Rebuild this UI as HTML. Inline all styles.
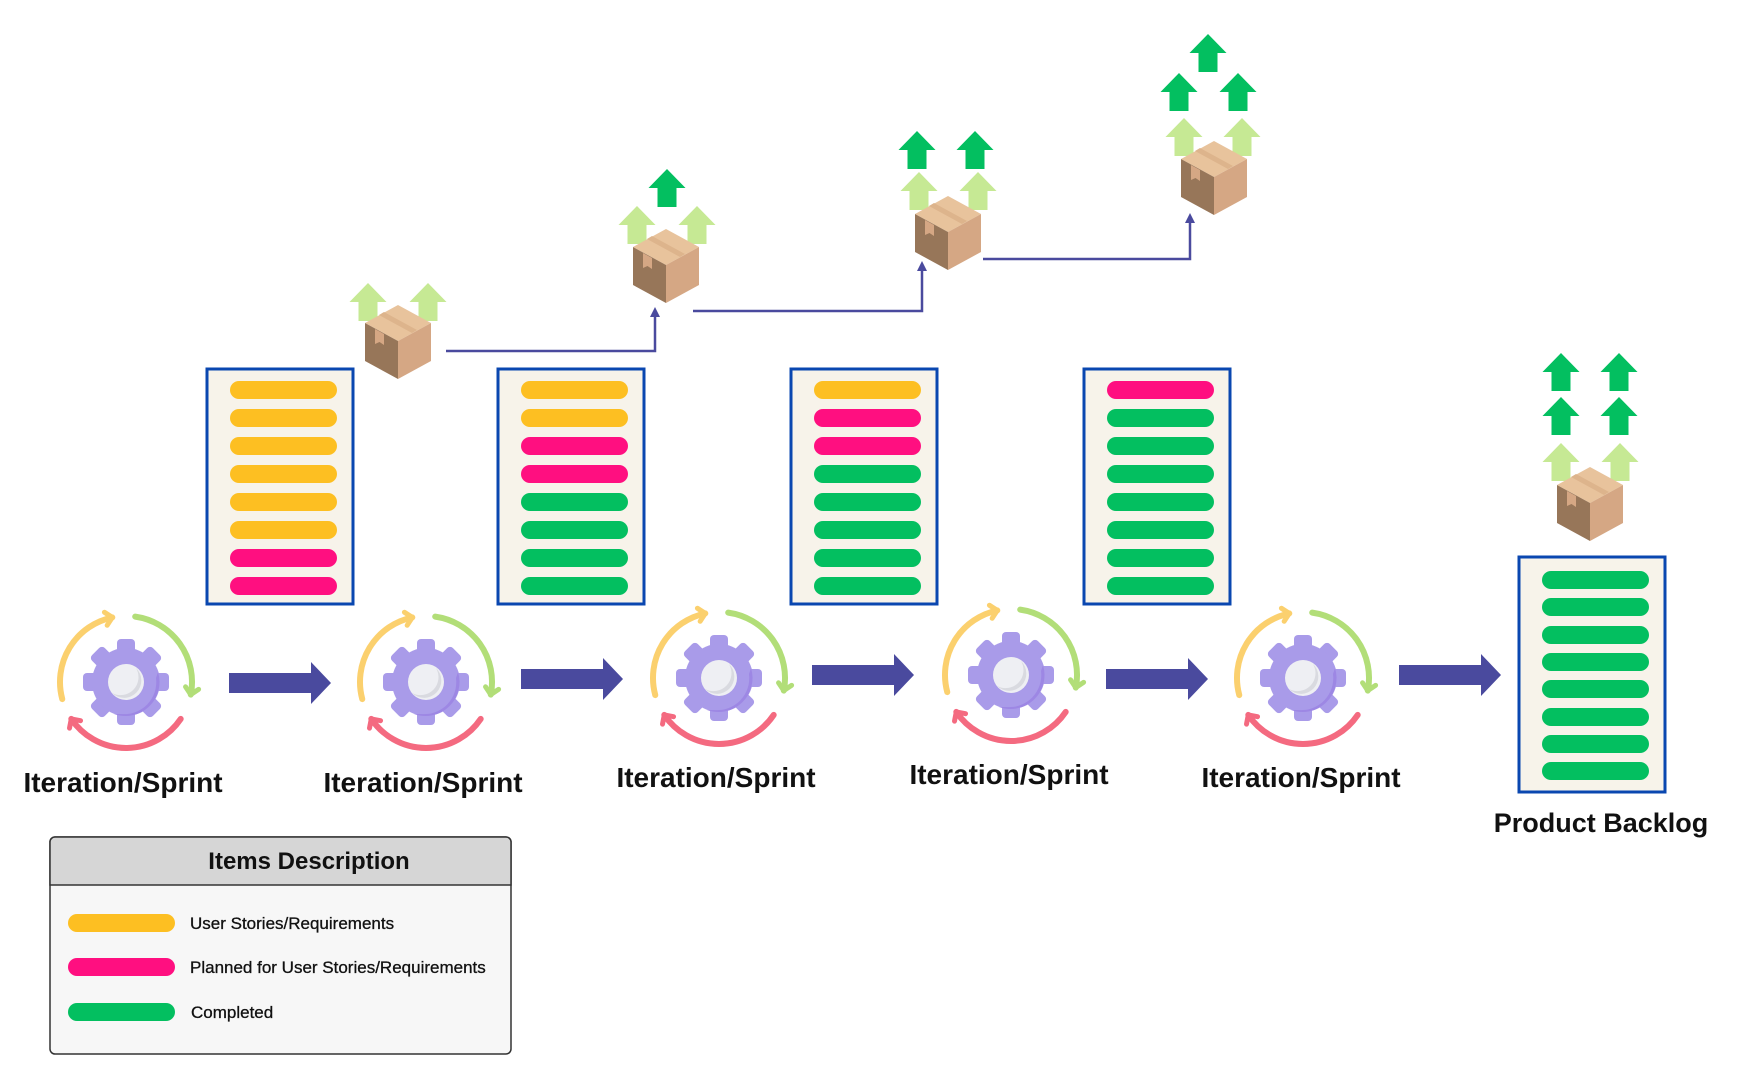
<!DOCTYPE html>
<html><head><meta charset="utf-8"><style>
html,body{margin:0;padding:0;background:#fff;}
svg{display:block;font-family:"Liberation Sans",sans-serif;}
</style></head><body>
<svg width="1756" height="1082" viewBox="0 0 1756 1082" xmlns="http://www.w3.org/2000/svg">
<defs>
<marker id="my" markerWidth="20" markerHeight="20" refX="0" refY="0" viewBox="-12 -12 24 24" orient="auto" markerUnits="userSpaceOnUse"><path d="M-8,-8 L0,0 L-8,8" fill="none" stroke="#fbd06e" stroke-width="6" stroke-linecap="round" stroke-linejoin="round"/></marker>
<marker id="mg" markerWidth="20" markerHeight="20" refX="0" refY="0" viewBox="-12 -12 24 24" orient="auto" markerUnits="userSpaceOnUse"><path d="M-8,-8 L0,0 L-8,8" fill="none" stroke="#b2de78" stroke-width="6" stroke-linecap="round" stroke-linejoin="round"/></marker>
<marker id="mr" markerWidth="20" markerHeight="20" refX="0" refY="0" viewBox="-12 -12 24 24" orient="auto" markerUnits="userSpaceOnUse"><path d="M-8,-8 L0,0 L-8,8" fill="none" stroke="#f46a80" stroke-width="6" stroke-linecap="round" stroke-linejoin="round"/></marker>
<g id="gear">
  <path d="M-63.75,17.08 A66,66 0 0 1 -13.7,-64.6" fill="none" stroke="#fbd06e" stroke-width="6" stroke-linecap="round" marker-end="url(#my)"/>
  <path d="M9.2,-65.4 A66,66 0 0 1 64.8,12.6" fill="none" stroke="#b2de78" stroke-width="6" stroke-linecap="round" marker-end="url(#mg)"/>
  <path d="M54.7,36.9 A66,66 0 0 1 -54.7,36.9" fill="none" stroke="#f46a80" stroke-width="6" stroke-linecap="round" marker-end="url(#mr)"/>
  <g fill="#a99be9">
    <rect x="-9" y="-43" width="18" height="18" rx="4"/>
    <rect x="-9" y="-43" width="18" height="18" rx="4" transform="rotate(45)"/>
    <rect x="-9" y="-43" width="18" height="18" rx="4" transform="rotate(90)"/>
    <rect x="-9" y="-43" width="18" height="18" rx="4" transform="rotate(135)"/>
    <rect x="-9" y="-43" width="18" height="18" rx="4" transform="rotate(180)"/>
    <rect x="-9" y="-43" width="18" height="18" rx="4" transform="rotate(225)"/>
    <rect x="-9" y="-43" width="18" height="18" rx="4" transform="rotate(270)"/>
    <rect x="-9" y="-43" width="18" height="18" rx="4" transform="rotate(315)"/>
    <circle r="34"/>
  </g>
  <path d="M32,-10 A34,34 0 0 1 -12,32 L-5,32 A32,32 0 0 0 30,-4Z" fill="#9d87e4"/>
  <circle r="18" fill="#eeeff3"/>
  <path d="M10,-14 A18,18 0 0 1 -14,11 A16,16 0 0 0 10,-14Z" fill="#d9dae0"/>
</g>
<g id="cube">
  <polygon points="0,-37 33,-19 0,-1 -33,-19" fill="#e8c39c"/>
  <polygon points="-33,-19 0,-1 0,37 -33,19" fill="#977659"/>
  <polygon points="0,-1 33,-19 33,19 0,37" fill="#d5a784"/>
  <polygon points="-23,-13 -14,-8 -14,3 -18.5,0 -23,2" fill="#d5a784"/>
  <polygon points="-14,-30 19,-12 14,-9 -19,-27" fill="#ddb48c"/>
</g>
<path id="upl" d="M0,-19 L18.5,0 L9.5,0 L9.5,19 L-9.5,19 L-9.5,0 L-18.5,0Z" fill="#c6e994"/>
<path id="upd" d="M0,-19 L18.5,0 L9.5,0 L9.5,19 L-9.5,19 L-9.5,0 L-18.5,0Z" fill="#03bf60"/>
<path id="barrow" d="M0,-10 L82,-10 L82,-21 L102,0 L82,21 L82,10 L0,10Z" fill="#4a4a9e"/>
</defs>

<g fill="none" stroke="#4a4a9e" stroke-width="2.5">
  <path d="M446,351 H655 V314"/>
  <path d="M693,311 H922 V268"/>
  <path d="M983,259 H1190 V220"/>
</g>
<g fill="#4a4a9e">
  <polygon points="655,307 650,317 660,317"/>
  <polygon points="922,261 917,271 927,271"/>
  <polygon points="1190,213 1185,223 1195,223"/>
</g>

<use href="#upl" x="368" y="302"/><use href="#upl" x="428" y="302"/>
<use href="#cube" x="398" y="342"/>

<use href="#upd" x="667" y="188"/>
<use href="#upl" x="637" y="225"/><use href="#upl" x="697" y="225"/>
<use href="#cube" x="666" y="266"/>

<use href="#upd" x="917" y="150"/><use href="#upd" x="975" y="150"/>
<use href="#upl" x="919" y="191"/><use href="#upl" x="978" y="191"/>
<use href="#cube" x="948" y="233"/>

<use href="#upd" x="1208" y="53"/>
<use href="#upd" x="1179" y="92"/><use href="#upd" x="1238" y="92"/>
<use href="#upl" x="1184" y="137"/><use href="#upl" x="1242" y="137"/>
<use href="#cube" x="1214" y="178"/>

<use href="#upd" x="1561" y="372"/><use href="#upd" x="1619" y="372"/>
<use href="#upd" x="1561" y="416"/><use href="#upd" x="1619" y="416"/>
<use href="#upl" x="1561" y="462"/><use href="#upl" x="1620" y="462"/>
<use href="#cube" x="1590" y="504"/>

<g stroke="#0a47b0" stroke-width="3" fill="#f7f3ea">
  <rect x="207" y="369" width="146" height="235"/>
  <rect x="498" y="369" width="146" height="235"/>
  <rect x="791" y="369" width="146" height="235"/>
  <rect x="1084" y="369" width="146" height="235"/>
  <rect x="1519" y="557" width="146" height="235"/>
</g>
<g>
<rect x="230" y="381" width="107" height="18" rx="9" fill="#fdbf22"/>
<rect x="230" y="409" width="107" height="18" rx="9" fill="#fdbf22"/>
<rect x="230" y="437" width="107" height="18" rx="9" fill="#fdbf22"/>
<rect x="230" y="465" width="107" height="18" rx="9" fill="#fdbf22"/>
<rect x="230" y="493" width="107" height="18" rx="9" fill="#fdbf22"/>
<rect x="230" y="521" width="107" height="18" rx="9" fill="#fdbf22"/>
<rect x="230" y="549" width="107" height="18" rx="9" fill="#ff0f80"/>
<rect x="230" y="577" width="107" height="18" rx="9" fill="#ff0f80"/>
</g>
<g>
<rect x="521" y="381" width="107" height="18" rx="9" fill="#fdbf22"/>
<rect x="521" y="409" width="107" height="18" rx="9" fill="#fdbf22"/>
<rect x="521" y="437" width="107" height="18" rx="9" fill="#ff0f80"/>
<rect x="521" y="465" width="107" height="18" rx="9" fill="#ff0f80"/>
<rect x="521" y="493" width="107" height="18" rx="9" fill="#03bf60"/>
<rect x="521" y="521" width="107" height="18" rx="9" fill="#03bf60"/>
<rect x="521" y="549" width="107" height="18" rx="9" fill="#03bf60"/>
<rect x="521" y="577" width="107" height="18" rx="9" fill="#03bf60"/>
</g>
<g>
<rect x="814" y="381" width="107" height="18" rx="9" fill="#fdbf22"/>
<rect x="814" y="409" width="107" height="18" rx="9" fill="#ff0f80"/>
<rect x="814" y="437" width="107" height="18" rx="9" fill="#ff0f80"/>
<rect x="814" y="465" width="107" height="18" rx="9" fill="#03bf60"/>
<rect x="814" y="493" width="107" height="18" rx="9" fill="#03bf60"/>
<rect x="814" y="521" width="107" height="18" rx="9" fill="#03bf60"/>
<rect x="814" y="549" width="107" height="18" rx="9" fill="#03bf60"/>
<rect x="814" y="577" width="107" height="18" rx="9" fill="#03bf60"/>
</g>
<g>
<rect x="1107" y="381" width="107" height="18" rx="9" fill="#ff0f80"/>
<rect x="1107" y="409" width="107" height="18" rx="9" fill="#03bf60"/>
<rect x="1107" y="437" width="107" height="18" rx="9" fill="#03bf60"/>
<rect x="1107" y="465" width="107" height="18" rx="9" fill="#03bf60"/>
<rect x="1107" y="493" width="107" height="18" rx="9" fill="#03bf60"/>
<rect x="1107" y="521" width="107" height="18" rx="9" fill="#03bf60"/>
<rect x="1107" y="549" width="107" height="18" rx="9" fill="#03bf60"/>
<rect x="1107" y="577" width="107" height="18" rx="9" fill="#03bf60"/>
</g>
<g fill="#03bf60">
<rect x="1542" y="571" width="107" height="18" rx="9"/>
<rect x="1542" y="598" width="107" height="18" rx="9"/>
<rect x="1542" y="626" width="107" height="18" rx="9"/>
<rect x="1542" y="653" width="107" height="18" rx="9"/>
<rect x="1542" y="680" width="107" height="18" rx="9"/>
<rect x="1542" y="708" width="107" height="18" rx="9"/>
<rect x="1542" y="735" width="107" height="18" rx="9"/>
<rect x="1542" y="762" width="107" height="18" rx="9"/>
</g>

<use href="#gear" x="126" y="682"/>
<use href="#gear" x="426" y="682"/>
<use href="#gear" x="719" y="678"/>
<use href="#gear" x="1011" y="675"/>
<use href="#gear" x="1303" y="678"/>

<use href="#barrow" x="229" y="683"/>
<use href="#barrow" x="521" y="679"/>
<use href="#barrow" x="812" y="675"/>
<use href="#barrow" x="1106" y="679"/>
<use href="#barrow" x="1399" y="675"/>

<g font-size="28" font-weight="bold" fill="#111" text-anchor="middle">
<text x="123" y="792">Iteration/Sprint</text>
<text x="423" y="792">Iteration/Sprint</text>
<text x="716" y="787">Iteration/Sprint</text>
<text x="1009" y="784">Iteration/Sprint</text>
<text x="1301" y="787">Iteration/Sprint</text>
<text x="1601" y="832" font-size="27">Product Backlog</text>
</g>

<rect x="50" y="837" width="461" height="217" rx="5" fill="#f7f7f7" stroke="#333" stroke-width="1.5"/>
<path d="M50,885 V842 A5,5 0 0 1 55,837 H506 A5,5 0 0 1 511,842 V885Z" fill="#d6d6d6" stroke="#333" stroke-width="1.5"/>
<text x="309" y="869" font-size="24" font-weight="bold" text-anchor="middle" fill="#111">Items Description</text>
<rect x="68" y="914" width="107" height="18" rx="9" fill="#fdbf22"/>
<rect x="68" y="958" width="107" height="18" rx="9" fill="#ff0f80"/>
<rect x="68" y="1003" width="107" height="18" rx="9" fill="#03bf60"/>
<g font-size="17" fill="#111" stroke="#111" stroke-width="0.3">
<text x="190" y="929">User Stories/Requirements</text>
<text x="190" y="973">Planned for User Stories/Requirements</text>
<text x="191" y="1018">Completed</text>
</g>
</svg>
</body></html>
